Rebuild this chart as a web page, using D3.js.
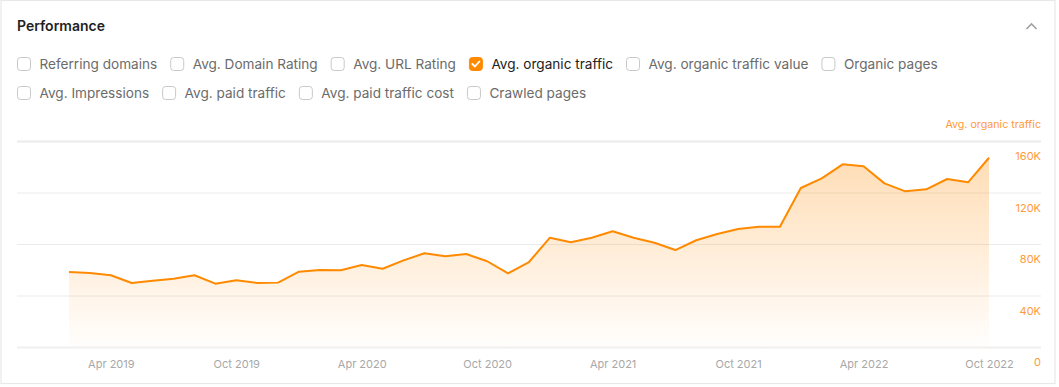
<!DOCTYPE html>
<html>
<head>
<meta charset="utf-8">
<script src="https://cdn.jsdelivr.net/npm/d3@7"></script>
<style>
  body { margin: 0; background: #fff; font-family: Inter, "Noto Sans", sans-serif; }
  svg { display: block; }
</style>
</head>
<body>
<div id="chart"></div>
<script>
// data
const months = d3.timeMonth.range(new Date(2019, 1, 1), new Date(2022, 10, 1)); // Feb 2019 .. Oct 2022
const traffic = [58300, 57500, 55700, 49700, 51500, 53000, 55700, 49200, 51800, 49700, 50000, 58500,
  59800, 59600, 63700, 60800, 67300, 72800, 70400, 72200, 66600, 57200, 66000, 84900,
  81300, 84900, 89900, 84900, 81000, 75300, 82900, 87800, 91600, 93400, 93400, 123500,
  131000, 141900, 140400, 127100, 120900, 122500, 130500, 127900, 147000];
const yTicks = [0, 40000, 80000, 120000, 160000];
const xTicks = [new Date(2019, 3, 1), new Date(2019, 9, 1), new Date(2020, 3, 1), new Date(2020, 9, 1),
  new Date(2021, 3, 1), new Date(2021, 9, 1), new Date(2022, 3, 1), new Date(2022, 9, 1)];
const row1 = ["Referring domains", "Avg. Domain Rating", "Avg. URL Rating", "Avg. organic traffic", "Avg. organic traffic value", "Organic pages"];
const row2 = ["Avg. Impressions", "Avg. paid traffic", "Avg. paid traffic cost", "Crawled pages"];
const checked = "Avg. organic traffic";

const W = 1059, H = 387;
const orange = "#ff8a00";

const svg = d3.select("#chart").append("svg").attr("width", W).attr("height", H);

// panel border
svg.append("rect").attr("x", 1).attr("y", 0.5).attr("width", 1054).attr("height", 383)
  .attr("fill", "#fff").attr("stroke", "#e8e8e8").attr("stroke-width", 1.2);

svg.append("text").attr("x", 17).attr("y", 26.5).attr("dy", "0.35em")
  .attr("font-size", 14).attr("font-weight", 600).attr("fill", "#1f1f1f").text("Performance");

// chevron
svg.append("path").attr("d", "M1026.5,29 L1031.5,24 L1036.5,29")
  .attr("fill", "none").attr("stroke", "#a0a0a0").attr("stroke-width", 1.6);

// checkboxes, laid out in a flow
function checkRow(labels, cy) {
  let x = 17;
  labels.forEach(l => {
    const on = l === checked;
    const g = svg.append("g");
    g.append("rect").attr("x", x + 0.5).attr("y", cy - 6.5).attr("width", 13).attr("height", 13).attr("rx", 3)
      .attr("fill", on ? orange : "#fff").attr("stroke", on ? orange : "#c8c8c8");
    if (on) {
      g.append("path").attr("d", `M${x + 3.5},${cy} L${x + 6},${cy + 2.5} L${x + 10.5},${cy - 2.5}`)
        .attr("fill", "none").attr("stroke", "#fff").attr("stroke-width", 1.8)
        .attr("stroke-linecap", "round").attr("stroke-linejoin", "round");
    }
    const t = g.append("text").attr("x", x + 22.5).attr("y", cy).attr("dy", "0.35em")
      .attr("font-size", 13.6).attr("fill", on ? "#222" : "#6b6b6b").text(l);
    x += 22.5 + t.node().getComputedTextLength() + 13;
  });
}
checkRow(row1, 64);
checkRow(row2, 93);

// scales
const x = d3.scalePoint().domain(months).range([69, 989]);
const y = d3.scaleLinear().domain([0, 160000]).range([347, 141]);
const data = months.map((m, i) => ({ m, v: traffic[i] }));

// gridlines
svg.append("g").selectAll("line").data(yTicks).join("line")
  .attr("x1", 17).attr("x2", 1041)
  .attr("y1", d => y(d) + 0.5).attr("y2", d => y(d) + 0.5)
  .attr("stroke", d => d === 0 ? "#efefef" : "#ebebeb")
  .attr("stroke-width", d => d === 0 || d === 160000 ? 2 : 1);

// y labels
svg.append("g").selectAll("text").data(yTicks).join("text")
  .attr("x", 1041).attr("y", d => y(d) + 15.5).attr("dy", "0.35em")
  .attr("text-anchor", "end").attr("font-size", 11).attr("fill", "#ff9a3c")
  .text(d => d === 0 ? "0" : d / 1000 + "K");

svg.append("text").attr("x", 1041).attr("y", 124.5).attr("dy", "0.35em")
  .attr("text-anchor", "end").attr("font-size", 10.7).attr("fill", "#ff9a3c").text("Avg. organic traffic");

// x axis
const xAxis = svg.append("g").attr("transform", "translate(0,364)")
  .call(d3.axisBottom(x).tickValues(xTicks).tickSize(0).tickPadding(0).tickFormat(d3.timeFormat("%b %Y")));
xAxis.select(".domain").remove();
xAxis.selectAll("text").attr("dy", "0.35em").attr("font-size", 11)
  .attr("font-family", "Inter, sans-serif").attr("fill", "#a8a8a8");

// area + line
const grad = svg.append("defs").append("linearGradient").attr("id", "fillGrad")
  .attr("gradientUnits", "userSpaceOnUse").attr("x1", 0).attr("x2", 0).attr("y1", 150).attr("y2", 347);
grad.append("stop").attr("offset", 0).attr("stop-color", orange).attr("stop-opacity", 0.3);
grad.append("stop").attr("offset", 1).attr("stop-color", orange).attr("stop-opacity", 0.01);

svg.append("path").datum(data)
  .attr("fill", "url(#fillGrad)")
  .attr("d", d3.area().x(d => x(d.m)).y0(y(0)).y1(d => y(d.v)));

svg.append("path").datum(data)
  .attr("fill", "none").attr("stroke", orange).attr("stroke-width", 2).attr("stroke-linejoin", "round")
  .attr("d", d3.line().x(d => x(d.m)).y(d => y(d.v)));
</script>
</body>
</html>
